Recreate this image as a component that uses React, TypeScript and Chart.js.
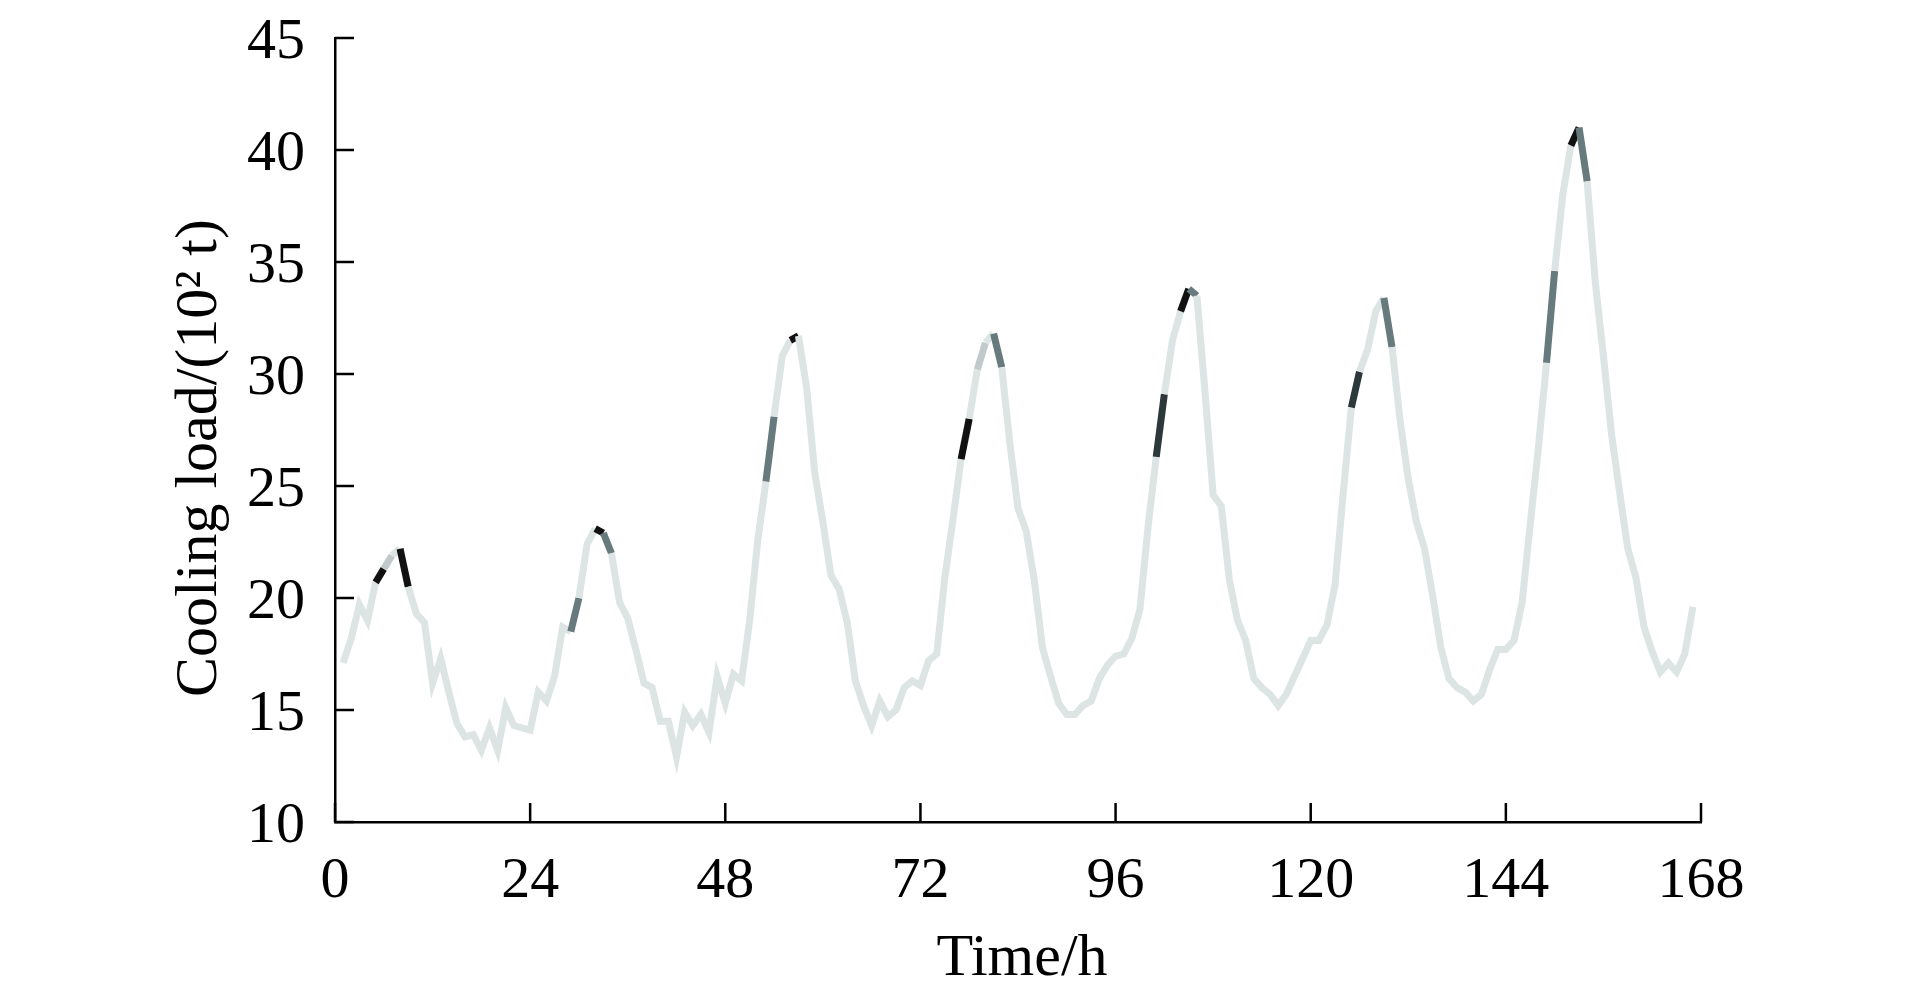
import React, { useEffect, useRef } from "react";
import { Chart, registerables } from "chart.js";

Chart.register(...registerables);

// Hourly cooling load (10^2 t), hours 1..167
const coolingLoad = [
  17.1, 18.2, 19.7, 19.0, 20.7, 21.3, 21.9, 22.2, 20.5, 19.3,
  18.9, 16.2, 17.3, 15.8, 14.4, 13.8, 13.9, 13.2, 14.2, 13.2,
  15.1, 14.3, 14.2, 14.1, 15.8, 15.4, 16.5, 18.7, 18.5, 20.0,
  22.4, 23.1, 22.9, 22.0, 19.8, 19.1, 17.7, 16.2, 16.0, 14.5,
  14.5, 12.9, 14.9, 14.3, 14.8, 14.0, 16.5, 15.3, 16.6, 16.3,
  19.0, 22.6, 25.2, 28.1, 30.8, 31.5, 31.7, 29.4, 25.6, 23.4,
  21.0, 20.4, 18.9, 16.3, 15.2, 14.3, 15.4, 14.7, 15.0, 16.0,
  16.3, 16.1, 17.2, 17.5, 20.9, 23.5, 26.2, 28.0, 30.2, 31.4,
  31.8, 30.3, 26.9, 24.0, 23.0, 20.8, 17.8, 16.5, 15.3, 14.8,
  14.8, 15.2, 15.4, 16.4, 17.0, 17.4, 17.5, 18.2, 19.5, 23.2,
  26.3, 29.1, 31.5, 32.8, 33.8, 33.5, 29.2, 24.6, 24.1, 20.8,
  19.0, 18.1, 16.4, 16.0, 15.7, 15.2, 15.7, 16.5, 17.3, 18.1,
  18.1, 18.8, 20.6, 24.7, 28.5, 30.1, 31.1, 32.8, 33.4, 31.2,
  27.9, 25.3, 23.4, 22.2, 20.1, 17.8, 16.4, 16.0, 15.8, 15.4,
  15.7, 16.8, 17.7, 17.7, 18.1, 19.8, 23.3, 26.7, 30.5, 34.6,
  38.0, 40.2, 41.0, 38.6, 34.1, 30.8, 27.3, 24.7, 22.2, 20.9,
  18.7, 17.6, 16.7, 17.1, 16.7, 17.5, 19.6,
];

// Highlighted segments: the segment starting at this hour, and its shade
const segmentStartHour = [5, 6, 8, 29, 32, 33, 53, 56, 77, 79, 81, 101, 104, 105, 125, 129, 149, 152, 153];
const segmentShade = [
  "black", "pale", "black", "mid", "black", "mid", "mid", "black", "black", "pale",
  "mid", "dark", "black", "mid", "dark", "mid", "mid", "black", "mid",
];

const xTickValues = [0, 24, 48, 72, 96, 120, 144, 168];
const yTickValues = [10, 15, 20, 25, 30, 35, 40, 45];

const xTitle = "Time/h";
const yTitle = "Cooling load/(10² t)";

const BASE_COLOR = "#dde4e4";
const SHADE_COLORS: Record<string, string> = {
  black: "#111111",
  dark: "#2c383b",
  mid: "#677a7d",
  pale: "#c0caca",
};

const FONT = "'Liberation Serif', 'Times New Roman', serif";

export default function App() {
  const canvasRef = useRef<HTMLCanvasElement | null>(null);

  useEffect(() => {
    const canvas = canvasRef.current;
    if (!canvas) return;

    const shadeByHour = new Map<number, string>();
    segmentStartHour.forEach((h, i) => shadeByHour.set(h, SHADE_COLORS[segmentShade[i]]));

    const points = coolingLoad.map((v, i) => ({ x: i + 1, y: v }));

    const axisDecor = {
      id: "axisDecor",
      afterDraw(chart: any) {
        const ctx = chart.ctx as CanvasRenderingContext2D;
        const xs = chart.scales.x;
        const ys = chart.scales.y;
        const area = chart.chartArea;
        ctx.save();
        ctx.strokeStyle = "#000";
        ctx.lineWidth = 2.5;
        ctx.lineCap = "butt";
        // inward ticks
        const tickLen = 19;
        xTickValues.forEach((v) => {
          const px = xs.getPixelForValue(v);
          ctx.beginPath();
          ctx.moveTo(px, area.bottom);
          ctx.lineTo(px, area.bottom - tickLen);
          ctx.stroke();
        });
        yTickValues.forEach((v) => {
          const py = ys.getPixelForValue(v);
          ctx.beginPath();
          ctx.moveTo(area.left, py);
          ctx.lineTo(area.left + tickLen, py);
          ctx.stroke();
        });
        // tick labels
        ctx.fillStyle = "#000";
        ctx.font = `58px ${FONT}`;
        ctx.textAlign = "center";
        ctx.textBaseline = "alphabetic";
        xTickValues.forEach((v) => {
          ctx.fillText(String(v), xs.getPixelForValue(v), area.bottom + 75);
        });
        ctx.textAlign = "right";
        yTickValues.forEach((v) => {
          ctx.fillText(String(v), area.left - 30, ys.getPixelForValue(v) + 20);
        });
        // axis titles
        ctx.font = `60px ${FONT}`;
        ctx.textAlign = "center";
        ctx.fillText(xTitle, (area.left + area.right) / 2 + 4, area.bottom + 153);
        ctx.save();
        ctx.translate(area.left - 135, (area.top + area.bottom) / 2 + 28);
        ctx.rotate(-Math.PI / 2);
        ctx.textBaseline = "middle";
        ctx.fillText(yTitle, 0, 0);
        ctx.restore();
        ctx.restore();
      },
    };

    const chart = new Chart(canvas, {
      type: "line",
      data: {
        datasets: [
          {
            data: points,
            borderColor: BASE_COLOR,
            borderWidth: 7,
            pointRadius: 0,
            tension: 0,
            fill: false,
            borderCapStyle: "butt",
            borderJoinStyle: "miter",
            segment: {
              borderColor: (c: any) => shadeByHour.get(c.p0DataIndex + 1) ?? BASE_COLOR,
            },
          },
        ],
      },
      options: {
        responsive: false,
        animation: false,
        devicePixelRatio: 1,
        layout: { padding: { left: 327, right: 204, top: 30, bottom: 162 } },
        plugins: {
          legend: { display: false },
          tooltip: { enabled: false },
          title: { display: false },
        },
        scales: {
          x: {
            type: "linear",
            min: 0,
            max: 168,
            ticks: { display: false, stepSize: 24 },
            grid: { display: false, drawTicks: false },
            border: { display: true, color: "#000", width: 2.5 },
          },
          y: {
            type: "linear",
            min: 10,
            max: 45,
            ticks: { display: false, stepSize: 5 },
            grid: { display: false, drawTicks: false },
            border: { display: true, color: "#000", width: 2.5 },
          },
        },
      },
      plugins: [axisDecor],
    } as any);

    return () => chart.destroy();
  }, []);

  return (
    <div style={{ width: 1897, height: 976 }}>
      <canvas ref={canvasRef} width={1897} height={976} style={{ display: "block" }} />
    </div>
  );
}
